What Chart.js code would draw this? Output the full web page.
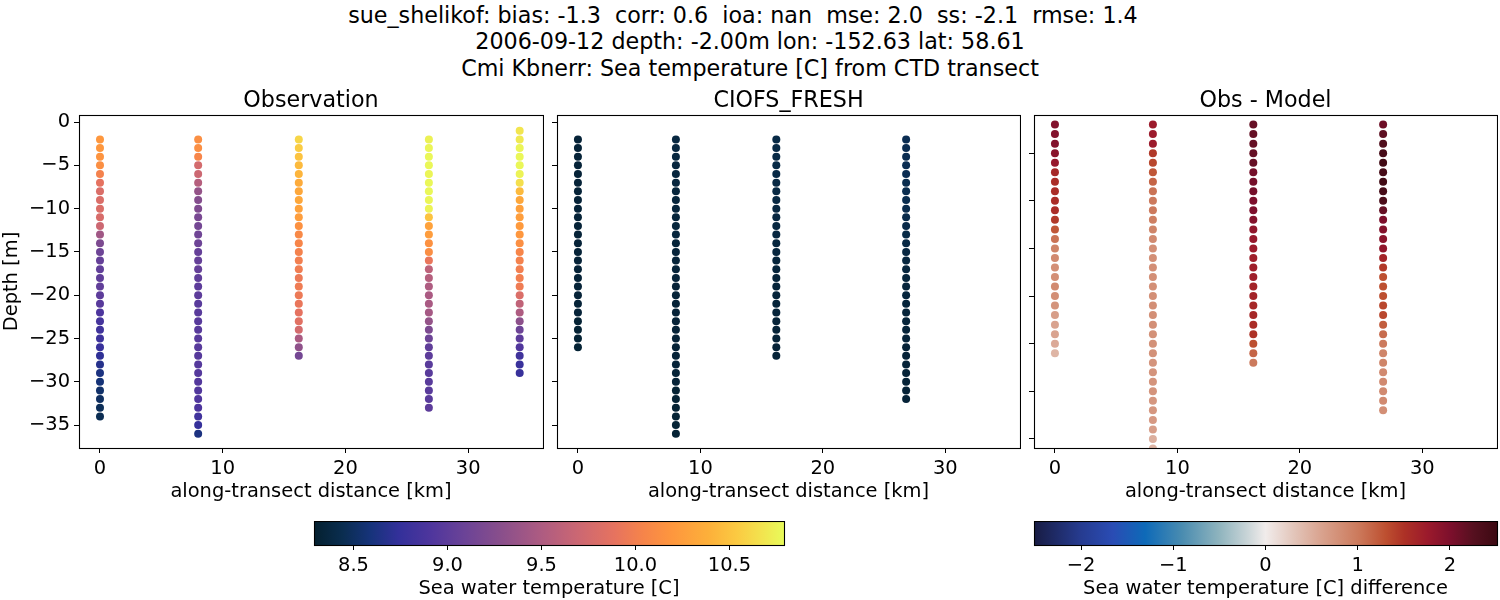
<!DOCTYPE html>
<html><head><meta charset="utf-8">
<script src="https://cdn.jsdelivr.net/npm/chart.js@4"></script>
<style>
html,body{margin:0;padding:0;background:#fff;width:1500px;height:600px;overflow:hidden}
canvas{position:absolute;display:block}
#sup{position:absolute;left:0;top:0;width:1500px;text-align:center;font:22.22px/26.6px "DejaVu Sans",sans-serif;color:#000;padding-top:1.5px}
</style></head><body>
<div id="sup">sue_shelikof: bias: -1.3&nbsp; corr: 0.6&nbsp; ioa: nan&nbsp; mse: 2.0&nbsp; ss: -2.1&nbsp; rmse: 1.4&nbsp;&nbsp;<br>2006-09-12 depth: -2.00m lon: -152.63 lat: 58.61<br>Cmi Kbnerr: Sea temperature [C] from CTD transect</div>
<canvas id="c1"></canvas><canvas id="c2"></canvas><canvas id="c3"></canvas><canvas id="cb1"></canvas><canvas id="cb2"></canvas>
<script>
// distances of the CTD casts [km]
const castDistances = [0, 8, 16.2, 26.8, 34.2];
// depth levels [m], shallowest first
const depthsFrom1 = [-1,-2,-3,-4,-5,-6,-7,-8,-9,-10,-11,-12,-13,-14,-15,-16,-17,-18,-19,-20,-21,-22,-23,-24,-25,-26,-27,-28,-29,-30,-31,-32,-33,-34,-35,-36];
const depthsFrom2 = depthsFrom1.slice(1);

// Observation temperature per cast
const obsCast0 = [10.2,10.2,10.17,10.13,10.02,9.88,9.8,9.8,9.8,9.78,9.7,9.42,9.2,9.1,9.05,9.03,9.02,9.03,9.0,8.97,8.9,8.85,8.82,8.8,8.77,8.72,8.67,8.62,8.58,8.53,8.5,8.47,8.45];
const obsCast1 = [10.13,10.13,10.05,9.75,9.7,9.55,9.35,9.25,9.22,9.18,9.15,9.12,9.1,9.05,9.05,9.05,9.03,9.0,9.0,8.98,8.98,8.97,8.97,8.97,8.97,8.96,8.95,8.95,8.94,8.93,8.92,8.9,8.83,8.75,8.62];
const obsCast2 = [10.6,10.55,10.5,10.45,10.42,10.35,10.32,10.32,10.28,10.25,10.15,10.08,10.05,10.02,10.0,9.98,9.95,9.97,9.95,9.92,9.88,9.85,9.75,9.48,9.32,9.15];
const obsCast3 = [10.74,10.76,10.77,10.77,10.76,10.77,10.77,10.76,10.75,10.5,10.28,10.24,10.15,10.12,9.92,9.6,9.55,9.5,9.48,9.47,9.45,9.35,9.2,9.1,9.02,9.0,8.98,8.98,8.98,8.98,8.98,9.0];
const obsCast4 = [10.68,10.7,10.76,10.77,10.77,10.75,10.65,10.45,10.32,10.27,10.25,10.22,10.2,10.13,10.05,10.02,10.0,10.0,9.97,9.8,9.62,9.5,9.3,9.1,9.0,8.93,8.82,8.78,8.77];

// CIOFS_FRESH temperature per cast
const modelCast0 = [8.33,8.33,8.33,8.33,8.33,8.33,8.33,8.33,8.33,8.33,8.33,8.33,8.33,8.33,8.33,8.33,8.33,8.33,8.33,8.33,8.33,8.32,8.32,8.32,8.32];
const modelCast1 = [8.37,8.37,8.37,8.36,8.36,8.36,8.35,8.35,8.35,8.35,8.35,8.35,8.34,8.34,8.34,8.34,8.34,8.33,8.33,8.33,8.33,8.33,8.33,8.33,8.33,8.33,8.33,8.33,8.33,8.32,8.32,8.32,8.32,8.32,8.32];
const modelCast2 = [8.4,8.4,8.4,8.4,8.4,8.39,8.39,8.39,8.38,8.38,8.37,8.37,8.36,8.36,8.35,8.35,8.34,8.34,8.34,8.34,8.34,8.33,8.33,8.33,8.33,8.33];
const modelCast3 = [8.45,8.45,8.45,8.45,8.45,8.44,8.44,8.44,8.43,8.42,8.41,8.4,8.39,8.38,8.37,8.36,8.35,8.35,8.35,8.35,8.34,8.34,8.34,8.34,8.33,8.33,8.33,8.33,8.33,8.33,8.33];

// Obs - Model difference per cast
const diffCast0 = [1.95,1.95,1.95,1.9,1.8,1.6,1.55,1.55,1.55,1.55,1.45,1.25,1.05,0.9,0.85,0.8,0.8,0.85,0.8,0.75,0.65,0.6,0.6,0.55,0.45];
const diffCast1 = [1.75,1.75,1.75,1.45,1.35,1.25,1.15,1.05,1.0,1.0,0.95,0.9,0.85,0.8,0.8,0.8,0.8,0.8,0.8,0.8,0.8,0.8,0.78,0.78,0.78,0.75,0.75,0.75,0.75,0.72,0.72,0.7,0.65,0.5,0.45];
const diffCast2 = [2.15,2.15,2.15,2.15,2.15,2.05,2.05,2.05,2.0,2.0,1.95,1.85,1.8,1.75,1.7,1.7,1.7,1.65,1.65,1.6,1.6,1.55,1.5,1.3,1.15,1.0];
const diffCast3 = [2.1,2.2,2.3,2.4,2.45,2.4,2.45,2.4,2.35,2.15,2.0,1.95,1.9,1.85,1.65,1.45,1.3,1.3,1.3,1.35,1.35,1.2,1.1,1.0,0.9,0.9,0.85,0.85,0.85,0.85,0.8];

// axis ticks
const distanceTicks = [0,10,20,30];
const depthTicks = [0,-5,-10,-15,-20,-25,-30,-35];
const tempBarTicks = [8.5,9,9.5,10,10.5];
const diffBarTicks = [-2,-1,0,1,2];

// colour maps [position, hex]
const thermalStops = [[0,'#04202f'],[0.06,'#0a2d4f'],[0.12,'#16337a'],[0.18,'#33309a'],[0.25,'#4f369d'],[0.32,'#6b4397'],[0.4,'#8a4f8b'],[0.48,'#ac5b82'],[0.56,'#cb6773'],[0.64,'#e6735f'],[0.7,'#f6844a'],[0.76,'#fe963e'],[0.84,'#fdb03a'],[0.9,'#fbca42'],[0.95,'#f3e24e'],[1,'#e8fb5a']];
const balanceStops = [[0,'#181c43'],[0.1,'#263b8f'],[0.17,'#2a4cb4'],[0.24,'#0e6ab8'],[0.32,'#4a8cb0'],[0.4,'#8fb4be'],[0.46,'#c8d4d7'],[0.5,'#f1eceb'],[0.56,'#e3c6bb'],[0.62,'#d9a38f'],[0.7,'#cc7a5c'],[0.76,'#bd4f30'],[0.8,'#ad3126'],[0.85,'#9b1a2c'],[0.9,'#7c0f2c'],[0.95,'#55101f'],[1,'#3c0912']];

const FONT = '"DejaVu Sans", sans-serif';
const TICKSIZE = 19.44, TITLESIZE = 22.22;
const hex = h => [1,3,5].map(i => parseInt(h.substr(i,2),16));
function cmap(stops, t){
  t = Math.max(0, Math.min(1, t));
  for (let i = 1; i < stops.length; i++) {
    if (t <= stops[i][0]) {
      const a = stops[i-1], b = stops[i], f = (t-a[0])/(b[0]-a[0]);
      const A = hex(a[1]), B = hex(b[1]);
      return 'rgb(' + A.map((v,k)=>Math.round(v+(B[k]-v)*f)).join(',') + ')';
    }
  }
  return stops[stops.length-1][1];
}
const tempRange = [8.29, 10.79], diffRange = [-2.51, 2.51];
const tempColor = v => cmap(thermalStops, (v-tempRange[0])/(tempRange[1]-tempRange[0]));
const diffColor = v => cmap(balanceStops, (v-diffRange[0])/(diffRange[1]-diffRange[0]));
const minus = s => String(s).replace('-', '\u2212');

const frame = {id:'frame', afterDatasetsDraw(c){
  const a=c.chartArea, x=c.ctx; x.save(); x.strokeStyle='#000'; x.lineWidth=1.1;
  x.strokeRect(Math.round(a.left)+.5,Math.round(a.top)+.5,Math.round(a.right-a.left),Math.round(a.bottom-a.top)); x.restore();
}};

function place(id, l, t, w, h){
  const c = document.getElementById(id);
  c.style.left=l+'px'; c.style.top=t+'px'; c.style.width=w+'px'; c.style.height=h+'px';
  c.width=w; c.height=h; return c;
}
const scaleCommon = {
  border:{display:true,color:'#000',width:1},
  grid:{display:true,drawOnChartArea:false,drawTicks:true,tickLength:5,color:'#000',lineWidth:1}
};
function panel(id, box, title, casts, colorOf, yRange, showYLabels){
  const datasets = casts.map(cs => ({
    data: cs.vals.map((v,i)=>({x:cs.x, y:cs.depths[i]})),
    backgroundColor: cs.vals.map(colorOf),
    borderWidth:0, pointRadius:4, pointHoverRadius:4, showLine:false
  }));
  new Chart(place(id, box.l, 85, box.w, 432), {
    type:'scatter', data:{datasets}, plugins:[frame],
    options:{animation:false,responsive:false,devicePixelRatio:1,
      layout:{autoPadding:false,padding:{left:0,right:box.r,top:0,bottom:0}},
      plugins:{legend:{display:false},tooltip:{enabled:false},
        title:{display:true,fullSize:false,text:title,color:'#000',font:{family:FONT,size:TITLESIZE,weight:'normal'},padding:{top:3,bottom:0.4}}},
      scales:{
        x:{type:'linear',min:-1.71,max:36.1,...scaleCommon,
          afterBuildTicks:s=>{s.ticks=distanceTicks.map(v=>({value:v}));},
          afterFit:s=>{s.height=69;s.paddingLeft=0;s.paddingRight=0;},
          ticks:{color:'#000',font:{family:FONT,size:TICKSIZE},padding:4,autoSkip:false,maxRotation:0,callback:v=>minus(v)},
          title:{display:true,text:'along-transect distance [km]',color:'#000',font:{family:FONT,size:TICKSIZE},padding:{top:0,bottom:13}}},
        y:{type:'linear',min:yRange[0],max:yRange[1],...scaleCommon,
          afterBuildTicks:s=>{s.ticks=depthTicks.filter(v=>v>=yRange[0]&&v<=yRange[1]).map(v=>({value:v}));},
          afterFit:s=>{s.width=box.yw;s.paddingTop=0;s.paddingBottom=0;},
          ticks:{display:showYLabels,color:'#000',font:{family:FONT,size:TICKSIZE},padding:4,autoSkip:false,callback:v=>minus(v)},
          title:{display:showYLabels,text:'Depth [m]',color:'#000',font:{family:FONT,size:TICKSIZE},padding:{top:0,bottom:0}}}
      }}
  });
}
const yMain=[-37.65,0.81], yDiff=[-35.95,-1.0];
panel('c1',{l:0,w:544,yw:79,r:1},'Observation',[
  {x:castDistances[0],vals:obsCast0,depths:depthsFrom2},
  {x:castDistances[1],vals:obsCast1,depths:depthsFrom2},
  {x:castDistances[2],vals:obsCast2,depths:depthsFrom2},
  {x:castDistances[3],vals:obsCast3,depths:depthsFrom2},
  {x:castDistances[4],vals:obsCast4,depths:depthsFrom1}],tempColor,yMain,true);
panel('c2',{l:544,w:477,yw:13,r:1},'CIOFS_FRESH',[
  {x:castDistances[0],vals:modelCast0,depths:depthsFrom2},
  {x:castDistances[1],vals:modelCast1,depths:depthsFrom2},
  {x:castDistances[2],vals:modelCast2,depths:depthsFrom2},
  {x:castDistances[3],vals:modelCast3,depths:depthsFrom2}],tempColor,yMain,false);
panel('c3',{l:1021,w:477,yw:13,r:1},'Obs - Model',[
  {x:castDistances[0],vals:diffCast0,depths:depthsFrom2},
  {x:castDistances[1],vals:diffCast1,depths:depthsFrom2},
  {x:castDistances[2],vals:diffCast2,depths:depthsFrom2},
  {x:castDistances[3],vals:diffCast3,depths:depthsFrom2}],diffColor,yDiff,false);

function colorbar(id, box, range, stops, ticks, fmt, label){
  const ramp = {id:'ramp', beforeDatasetsDraw(c){
    const a=c.chartArea, x=c.ctx, g=x.createLinearGradient(a.left,0,a.right,0);
    stops.forEach(s=>g.addColorStop(s[0],s[1]));
    x.save(); x.fillStyle=g; x.fillRect(a.left,a.top,a.right-a.left,a.bottom-a.top); x.restore();
  }};
  new Chart(place(id, box.l, box.t, box.w, box.h), {
    type:'scatter', data:{datasets:[{data:[],pointRadius:0}]}, plugins:[ramp,frame],
    options:{animation:false,responsive:false,devicePixelRatio:1,
      layout:{autoPadding:false,padding:{left:box.pl,right:box.pr,top:0,bottom:0}},
      plugins:{legend:{display:false},tooltip:{enabled:false}},
      scales:{
        y:{display:false,min:0,max:1},
        x:{type:'linear',min:range[0],max:range[1],...scaleCommon,
          afterBuildTicks:s=>{s.ticks=ticks.map(v=>({value:v}));},
          afterFit:s=>{s.height=box.ah;s.paddingLeft=0;s.paddingRight=0;},
          ticks:{color:'#000',font:{family:FONT,size:TICKSIZE},padding:4,autoSkip:false,maxRotation:0,callback:fmt},
          title:{display:true,text:label,color:'#000',font:{family:FONT,size:TICKSIZE},padding:{top:0,bottom:0}}}
      }}
  });
}
colorbar('cb1',{l:250,t:521,w:600,h:80,pl:64,pr:66,ah:56},tempRange,thermalStops,tempBarTicks,v=>v.toFixed(1),'Sea water temperature [C]');
colorbar('cb2',{l:1000,t:521,w:500,h:80,pl:34,pr:3,ah:56},diffRange,balanceStops,diffBarTicks,v=>minus(v),'Sea water temperature [C] difference');
</script>
</body></html>
